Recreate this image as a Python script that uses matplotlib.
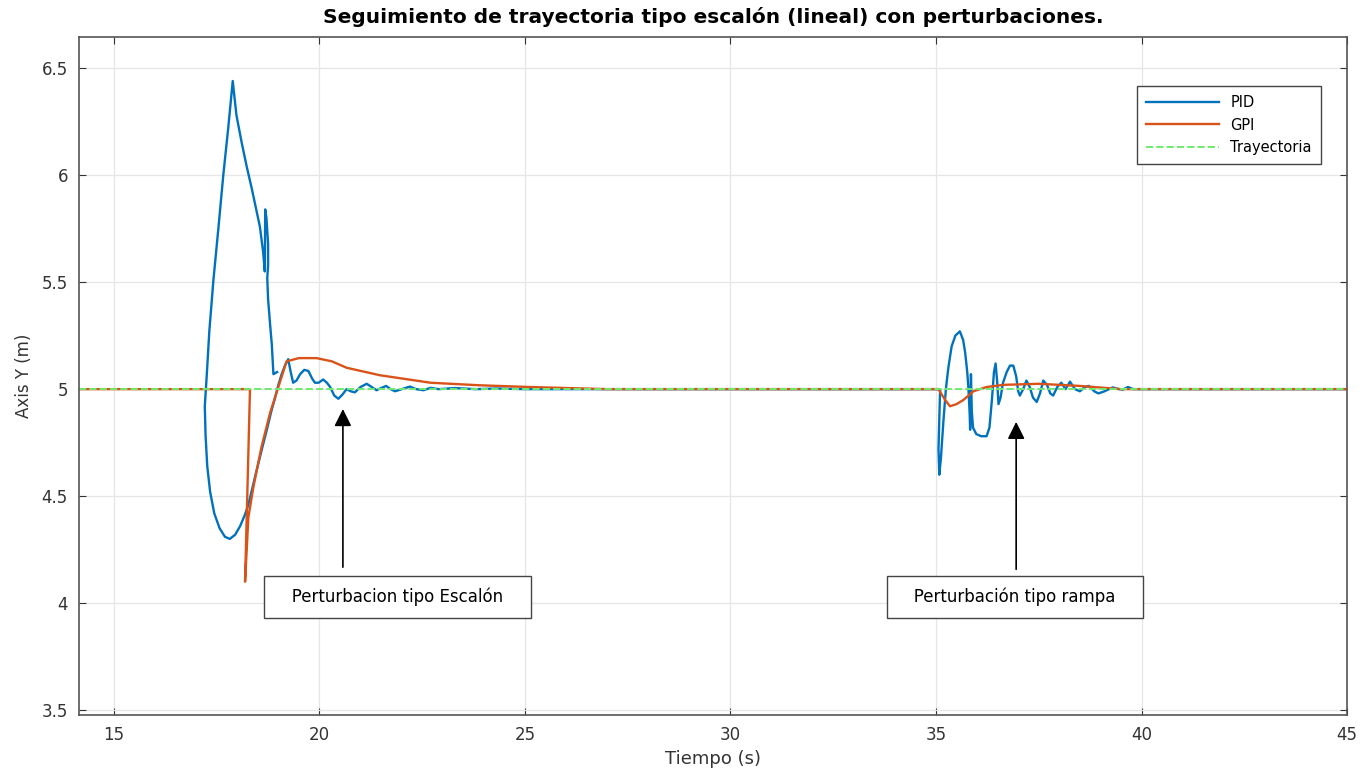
import numpy as np
import matplotlib.pyplot as plt

# PID trace (time, y); the loop makes time non-monotonic
pid_t = [18.97, 18.88, 18.84, 18.8, 18.75, 18.73, 18.75, 18.75, 18.71, 18.68, 18.67, 18.63, 18.55,
         18.45, 18.35, 18.23, 18.11, 17.98, 17.89,
         17.78, 17.66, 17.54, 17.42, 17.32, 17.25, 17.21, 17.23, 17.27, 17.34, 17.44, 17.57,
         17.7, 17.82, 17.95, 18.07, 18.18, 18.27, 18.37, 18.47, 18.6, 18.72, 18.82, 18.92,
         19.0, 19.08, 19.16, 19.24,
         19.3, 19.36, 19.44, 19.53, 19.63, 19.73, 19.82, 19.89, 19.98, 20.09, 20.18, 20.26,
         20.36, 20.46, 20.56, 20.66, 20.76, 20.86, 21.0, 21.15, 21.27, 21.39, 21.5, 21.62,
         21.73, 21.84, 22.0, 22.2, 22.35, 22.53, 22.7, 22.9, 23.3, 23.8, 24.3, 25.0, 30.0,
         35.05, 35.1, 35.08, 35.06, 35.08, 35.12, 35.18, 35.24, 35.3, 35.38, 35.47, 35.58,
         35.66, 35.71, 35.76, 35.79, 35.82, 35.83, 35.85, 35.87, 35.9, 35.98, 36.1, 36.23,
         36.3, 36.36, 36.41, 36.45, 36.49, 36.52, 36.57, 36.63, 36.72, 36.8, 36.88, 36.95,
         37.0, 37.04, 37.12, 37.2, 37.28, 37.36, 37.45, 37.53, 37.61, 37.7, 37.78, 37.85,
         37.95, 38.05, 38.15, 38.26, 38.38, 38.5, 38.62, 38.72, 38.85, 38.95, 39.1, 39.3,
         39.45, 39.55, 39.67, 39.8, 40.0, 40.5, 45.0]
pid_y = [5.08, 5.07, 5.21, 5.3, 5.42, 5.52, 5.58, 5.68, 5.80, 5.84, 5.55, 5.64, 5.76,
         5.85, 5.94, 6.04, 6.15, 6.28, 6.44,
         6.22, 6.0, 5.75, 5.51, 5.27, 5.04, 4.92, 4.78, 4.64, 4.52, 4.42, 4.35,
         4.31, 4.30, 4.32, 4.36, 4.41, 4.46, 4.54, 4.62, 4.72, 4.81, 4.89, 4.96,
         5.02, 5.07, 5.11, 5.14,
         5.08, 5.03, 5.04, 5.07, 5.09, 5.085, 5.05, 5.03, 5.03, 5.045, 5.03, 5.01,
         4.97, 4.955, 4.975, 5.0, 4.99, 4.985, 5.01, 5.025, 5.01, 4.995, 5.005, 5.015,
         5.0, 4.99, 5.0, 5.012, 5.0, 4.995, 5.006, 5.0, 5.005, 5.0, 5.003, 5.0, 5.0,
         5.0, 5.0, 4.85, 4.72, 4.6, 4.68, 4.85, 5.0, 5.1, 5.2, 5.25, 5.27,
         5.23, 5.17, 5.08, 5.0, 4.88, 4.81, 5.07, 4.9, 4.82, 4.79, 4.78, 4.78,
         4.82, 4.95, 5.08, 5.12, 5.03, 4.93, 4.96, 5.03, 5.08, 5.11, 5.11, 5.06,
         4.99, 4.97, 5.0, 5.04, 5.01, 4.96, 4.94, 4.98, 5.04, 5.02, 4.98, 4.97,
         5.01, 5.03, 5.0, 5.035, 5.0, 4.99, 5.01, 5.015, 4.99, 4.98, 4.99, 5.008,
         5.0, 4.998, 5.01, 5.0, 5.0, 5.0, 5.0]

# GPI trace
gpi_t = [14.15, 18.31, 18.19, 18.27, 18.39, 18.59, 18.8, 19.0, 19.2, 19.5, 19.93, 20.3,
         20.66, 21.47, 22.7, 23.9, 25.1, 27.0, 35.06, 35.22, 35.34, 35.5, 35.67, 35.91,
         36.23, 36.64, 37.5, 38.5, 39.5, 45.0]
gpi_y = [5.0, 5.0, 4.1, 4.4, 4.54, 4.73, 4.89, 5.01, 5.13, 5.145, 5.145, 5.13,
         5.1, 5.065, 5.03, 5.018, 5.01, 5.0, 5.0, 4.95, 4.92, 4.93, 4.95, 4.99,
         5.01, 5.02, 5.025, 5.015, 5.0, 5.0]

# reference trajectory
ref_t = [14.15, 45.0]
ref_y = [5.0, 5.0]

fig = plt.figure(figsize=(13.67, 7.74), dpi=100)
ax = fig.add_axes([0.0578, 0.0762, 0.9276, 0.8758])

ax.plot(pid_t, pid_y, color='#0072BD', lw=1.7, label='PID')
ax.plot(gpi_t, gpi_y, color='#D95319', lw=1.7, label='GPI')
ax.plot(ref_t, ref_y, '--', color='#6FEA6F', lw=1.4, label='Trayectoria')

ax.set_xlim(14.15, 45)
ax.set_ylim(3.477, 6.645)
ax.set_xticks(np.arange(15, 46, 5))
ax.set_yticks(np.arange(3.5, 6.51, 0.5))
ax.yaxis.set_major_formatter(plt.FormatStrFormatter('%g'))
ax.grid(True, color='#e6e6e6', lw=0.9)
ax.tick_params(direction='in', top=True, right=True, length=5, labelsize=12,
               colors='#333333', pad=8)
for s in ax.spines.values():
    s.set_color('#555555')
    s.set_linewidth(1.2)

ax.set_title('Seguimiento de trayectoria tipo escalón (lineal) con perturbaciones.',
             fontsize=14.5, fontweight='bold', pad=10)
ax.set_xlabel('Tiempo (s)', fontsize=13, color='#333333', labelpad=4)
ax.set_ylabel('Axis Y (m)', fontsize=12, color='#333333', labelpad=6)

leg = ax.legend(loc='upper right', bbox_to_anchor=(0.985, 0.938), fontsize=10.5,
                handlelength=5.0, fancybox=False, framealpha=1, borderpad=0.6,
                labelspacing=0.5)
leg.get_frame().set_edgecolor('#444444')
leg.get_frame().set_linewidth(1.0)

arrow = dict(arrowstyle='-|>', color='black', lw=1.2, mutation_scale=26)
ax.annotate('', xy=(20.57, 4.92), xytext=(20.57, 4.155), arrowprops=arrow)
ax.annotate('', xy=(36.95, 4.86), xytext=(36.95, 4.145), arrowprops=arrow)

box = dict(boxstyle='square,pad=0.7', facecolor='white', edgecolor='#444444', lw=1.0)
ax.text(21.9, 4.03, '   Perturbacion tipo Escalón   ', fontsize=12, ha='center', va='center', bbox=box)
ax.text(36.92, 4.03, '   Perturbación tipo rampa   ', fontsize=12, ha='center', va='center', bbox=box)

fig.savefig('out.png', dpi=100)
